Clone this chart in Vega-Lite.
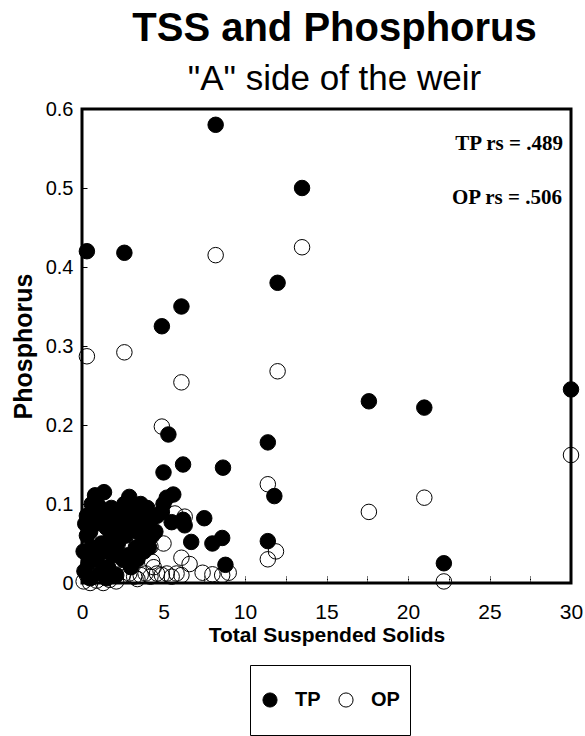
{
  "$schema": "https://vega.github.io/schema/vega-lite/v6.json",
  "autosize": {"type": "none"},
  "width": 489,
  "height": 474,
  "padding": {"left": 82, "top": 109, "right": 14, "bottom": 153},
  "background": "white",
  "title": {
    "text": "TSS and Phosphorus",
    "subtitle": "\"A\" side of the weir",
    "anchor": "middle",
    "frame": "group",
    "dx": 8,
    "font": "Liberation Sans",
    "fontSize": 40,
    "fontWeight": "bold",
    "color": "black",
    "subtitleFont": "Liberation Sans",
    "subtitleFontSize": 35,
    "subtitleFontWeight": "normal",
    "subtitleColor": "black",
    "subtitlePadding": 13,
    "offset": 2
  },
  "config": {
    "view": {"stroke": "black", "strokeWidth": 3},
    "axis": {"grid": false, "domain": false, "labelFont": "Liberation Sans", "titleFont": "Liberation Sans", "labelColor": "black", "titleColor": "black", "tickColor": "black"}
  },
  "datasets": {
    "pts": [
      {"tss": 0.3, "p": 0.287, "series": "OP"},
      {"tss": 2.6, "p": 0.292, "series": "OP"},
      {"tss": 8.2, "p": 0.415, "series": "OP"},
      {"tss": 13.5, "p": 0.425, "series": "OP"},
      {"tss": 12.0, "p": 0.268, "series": "OP"},
      {"tss": 6.1, "p": 0.254, "series": "OP"},
      {"tss": 4.9, "p": 0.198, "series": "OP"},
      {"tss": 30.0, "p": 0.162, "series": "OP"},
      {"tss": 17.6, "p": 0.09, "series": "OP"},
      {"tss": 21.0, "p": 0.108, "series": "OP"},
      {"tss": 11.4, "p": 0.125, "series": "OP"},
      {"tss": 22.2, "p": 0.002, "series": "OP"},
      {"tss": 11.4, "p": 0.03, "series": "OP"},
      {"tss": 11.9, "p": 0.04, "series": "OP"},
      {"tss": 9.0, "p": 0.013, "series": "OP"},
      {"tss": 8.6, "p": 0.01, "series": "OP"},
      {"tss": 8.0, "p": 0.011, "series": "OP"},
      {"tss": 7.4, "p": 0.013, "series": "OP"},
      {"tss": 5.7, "p": 0.088, "series": "OP"},
      {"tss": 6.3, "p": 0.084, "series": "OP"},
      {"tss": 5.0, "p": 0.05, "series": "OP"},
      {"tss": 4.2, "p": 0.046, "series": "OP"},
      {"tss": 4.3, "p": 0.027, "series": "OP"},
      {"tss": 6.1, "p": 0.032, "series": "OP"},
      {"tss": 6.6, "p": 0.024, "series": "OP"},
      {"tss": 0.1, "p": 0.002, "series": "OP"},
      {"tss": 0.5, "p": 0.0, "series": "OP"},
      {"tss": 0.9, "p": 0.003, "series": "OP"},
      {"tss": 1.3, "p": 0.0, "series": "OP"},
      {"tss": 1.7, "p": 0.004, "series": "OP"},
      {"tss": 2.1, "p": 0.002, "series": "OP"},
      {"tss": 0.3, "p": 0.01, "series": "OP"},
      {"tss": 2.5, "p": 0.01, "series": "OP"},
      {"tss": 2.9, "p": 0.012, "series": "OP"},
      {"tss": 3.2, "p": 0.008, "series": "OP"},
      {"tss": 3.6, "p": 0.01, "series": "OP"},
      {"tss": 3.9, "p": 0.012, "series": "OP"},
      {"tss": 4.2, "p": 0.008, "series": "OP"},
      {"tss": 4.6, "p": 0.012, "series": "OP"},
      {"tss": 4.9, "p": 0.01, "series": "OP"},
      {"tss": 5.2, "p": 0.012, "series": "OP"},
      {"tss": 5.5, "p": 0.008, "series": "OP"},
      {"tss": 5.8, "p": 0.012, "series": "OP"},
      {"tss": 6.1, "p": 0.01, "series": "OP"},
      {"tss": 3.4, "p": 0.005, "series": "OP"},
      {"tss": 4.4, "p": 0.02, "series": "OP"},
      {"tss": 2.2, "p": 0.03, "series": "OP"},
      {"tss": 1.0, "p": 0.02, "series": "OP"},
      {"tss": 0.3, "p": 0.42, "series": "TP"},
      {"tss": 2.6, "p": 0.418, "series": "TP"},
      {"tss": 8.2, "p": 0.58, "series": "TP"},
      {"tss": 13.5, "p": 0.5, "series": "TP"},
      {"tss": 12.0, "p": 0.38, "series": "TP"},
      {"tss": 6.1, "p": 0.35, "series": "TP"},
      {"tss": 4.9, "p": 0.325, "series": "TP"},
      {"tss": 30.0, "p": 0.245, "series": "TP"},
      {"tss": 17.6, "p": 0.23, "series": "TP"},
      {"tss": 21.0, "p": 0.222, "series": "TP"},
      {"tss": 5.3, "p": 0.188, "series": "TP"},
      {"tss": 11.4, "p": 0.178, "series": "TP"},
      {"tss": 6.2, "p": 0.15, "series": "TP"},
      {"tss": 8.65, "p": 0.146, "series": "TP"},
      {"tss": 5.0, "p": 0.14, "series": "TP"},
      {"tss": 11.8, "p": 0.11, "series": "TP"},
      {"tss": 22.2, "p": 0.025, "series": "TP"},
      {"tss": 11.4, "p": 0.053, "series": "TP"},
      {"tss": 8.8, "p": 0.023, "series": "TP"},
      {"tss": 7.5, "p": 0.082, "series": "TP"},
      {"tss": 8.0, "p": 0.05, "series": "TP"},
      {"tss": 8.6, "p": 0.057, "series": "TP"},
      {"tss": 6.7, "p": 0.052, "series": "TP"},
      {"tss": 5.6, "p": 0.112, "series": "TP"},
      {"tss": 5.2, "p": 0.108, "series": "TP"},
      {"tss": 6.2, "p": 0.08, "series": "TP"},
      {"tss": 6.3, "p": 0.073, "series": "TP"},
      {"tss": 5.5, "p": 0.077, "series": "TP"},
      {"tss": 4.9, "p": 0.09, "series": "TP"},
      {"tss": 4.2, "p": 0.08, "series": "TP"},
      {"tss": 0.1, "p": 0.04, "series": "TP"},
      {"tss": 0.15, "p": 0.015, "series": "TP"},
      {"tss": 0.3, "p": 0.06, "series": "TP"},
      {"tss": 0.4, "p": 0.025, "series": "TP"},
      {"tss": 0.5, "p": 0.006, "series": "TP"},
      {"tss": 0.6, "p": 0.045, "series": "TP"},
      {"tss": 0.8, "p": 0.111, "series": "TP"},
      {"tss": 0.8, "p": 0.075, "series": "TP"},
      {"tss": 0.9, "p": 0.03, "series": "TP"},
      {"tss": 1.1, "p": 0.012, "series": "TP"},
      {"tss": 1.2, "p": 0.088, "series": "TP"},
      {"tss": 1.35, "p": 0.115, "series": "TP"},
      {"tss": 1.4, "p": 0.04, "series": "TP"},
      {"tss": 1.5, "p": 0.07, "series": "TP"},
      {"tss": 1.6, "p": 0.02, "series": "TP"},
      {"tss": 1.7, "p": 0.055, "series": "TP"},
      {"tss": 1.8, "p": 0.095, "series": "TP"},
      {"tss": 1.9, "p": 0.035, "series": "TP"},
      {"tss": 2.0, "p": 0.075, "series": "TP"},
      {"tss": 2.1, "p": 0.01, "series": "TP"},
      {"tss": 2.2, "p": 0.05, "series": "TP"},
      {"tss": 2.3, "p": 0.065, "series": "TP"},
      {"tss": 2.4, "p": 0.085, "series": "TP"},
      {"tss": 2.5, "p": 0.03, "series": "TP"},
      {"tss": 2.7, "p": 0.06, "series": "TP"},
      {"tss": 2.9, "p": 0.109, "series": "TP"},
      {"tss": 3.0, "p": 0.02, "series": "TP"},
      {"tss": 3.1, "p": 0.07, "series": "TP"},
      {"tss": 3.2, "p": 0.098, "series": "TP"},
      {"tss": 3.3, "p": 0.045, "series": "TP"},
      {"tss": 3.5, "p": 0.085, "series": "TP"},
      {"tss": 3.7, "p": 0.06, "series": "TP"},
      {"tss": 3.9, "p": 0.075, "series": "TP"},
      {"tss": 4.1, "p": 0.045, "series": "TP"},
      {"tss": 4.5, "p": 0.065, "series": "TP"},
      {"tss": 1.2, "p": 0.05, "series": "TP"},
      {"tss": 0.7, "p": 0.09, "series": "TP"},
      {"tss": 1.5, "p": 0.006, "series": "TP"},
      {"tss": 0.3, "p": 0.085, "series": "TP"},
      {"tss": 0.2, "p": 0.075, "series": "TP"},
      {"tss": 0.6, "p": 0.1, "series": "TP"},
      {"tss": 1.0, "p": 0.098, "series": "TP"},
      {"tss": 1.6, "p": 0.085, "series": "TP"},
      {"tss": 2.2, "p": 0.09, "series": "TP"},
      {"tss": 2.6, "p": 0.1, "series": "TP"},
      {"tss": 3.6, "p": 0.1, "series": "TP"},
      {"tss": 4.0, "p": 0.095, "series": "TP"},
      {"tss": 0.5, "p": 0.065, "series": "TP"},
      {"tss": 1.8, "p": 0.065, "series": "TP"},
      {"tss": 2.9, "p": 0.085, "series": "TP"},
      {"tss": 3.4, "p": 0.065, "series": "TP"},
      {"tss": 4.3, "p": 0.06, "series": "TP"},
      {"tss": 3.8, "p": 0.04, "series": "TP"},
      {"tss": 2.6, "p": 0.075, "series": "TP"},
      {"tss": 1.0, "p": 0.045, "series": "TP"},
      {"tss": 0.4, "p": 0.035, "series": "TP"},
      {"tss": 2.0, "p": 0.04, "series": "TP"},
      {"tss": 3.4, "p": 0.03, "series": "TP"},
      {"tss": 2.8, "p": 0.035, "series": "TP"},
      {"tss": 4.6, "p": 0.085, "series": "TP"},
      {"tss": 5.0, "p": 0.1, "series": "TP"}
    ],
    "notes": [
      {"tss": 22.9, "p": 0.548, "label": "TP rs = .489"},
      {"tss": 22.7, "p": 0.48, "label": "OP rs = .506"}
    ]
  },
  "layer": [
    {
      "data": {"name": "pts"},
      "mark": {"type": "point", "shape": "circle", "size": 240, "stroke": "black", "strokeWidth": 1, "opacity": 1, "fillOpacity": 1},
      "encoding": {
        "x": {
          "field": "tss", "type": "quantitative",
          "scale": {"domain": [0, 30], "nice": false, "zero": true},
          "axis": {
            "title": "Total Suspended Solids",
            "titleFontSize": 21, "titleFontWeight": "bold", "titlePadding": 2,
            "values": [0, 2.5, 5, 7.5, 10, 12.5, 15, 17.5, 20, 22.5, 25, 27.5, 30],
            "labelExpr": "datum.value % 5 === 0 ? datum.label : ''",
            "labelFlush": false, "labelOverlap": false,
            "labelFontSize": 21, "labelPadding": 25, "tickSize": -7, "tickWidth": 1, "tickDash": [2, 1]
          }
        },
        "y": {
          "field": "p", "type": "quantitative",
          "scale": {"domain": [0, 0.6], "nice": false},
          "axis": {
            "title": "Phosphorus",
            "titleFontSize": 25, "titleFontWeight": "bold", "titlePadding": 9,
            "values": [0, 0.1, 0.2, 0.3, 0.4, 0.5, 0.6],
            "labelExpr": "datum.value === 0 ? '0' : format(datum.value, '.1f')",
            "labelFlush": false, "labelOverlap": false,
            "labelFontSize": 20, "labelPadding": 14, "tickSize": -5, "tickWidth": 1
          }
        },
        "fill": {
          "field": "series", "type": "nominal",
          "scale": {"domain": ["TP", "OP"], "range": ["black", "transparent"]},
          "legend": {
            "orient": "none", "legendX": 168, "legendY": 556,
            "direction": "horizontal", "title": null,
            "strokeColor": "black", "fillColor": "white", "padding": 10,
            "labelFont": "Liberation Sans", "labelFontSize": 20, "labelFontWeight": "bold", "labelColor": "black",
            "labelOffset": 15, "columnPadding": 15,
            "symbolType": "circle", "symbolSize": 200, "symbolStrokeColor": "black", "symbolStrokeWidth": 1,
            "clipHeight": 50
          }
        }
      }
    },
    {
      "data": {"name": "notes"},
      "mark": {"type": "text", "align": "left", "baseline": "alphabetic", "font": "Liberation Serif", "fontWeight": "bold", "fontSize": 21, "color": "black"},
      "encoding": {
        "x": {"field": "tss", "type": "quantitative"},
        "y": {"field": "p", "type": "quantitative"},
        "text": {"field": "label"}
      }
    }
  ]
}
